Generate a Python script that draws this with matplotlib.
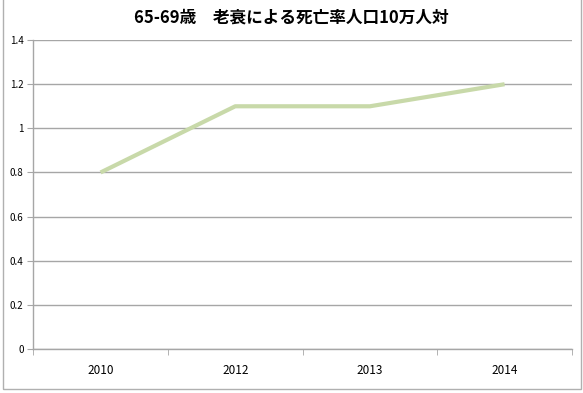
import matplotlib
matplotlib.use("Agg")
from matplotlib import pyplot as plt
from matplotlib.patches import Rectangle

plt.rcParams["font.family"] = ["Noto Sans CJK JP", "DejaVu Sans"]

years = ["2010", "2012", "2013", "2014"]
rates = [0.8, 1.1, 1.1, 1.2]
y_ticks = [0, 0.2, 0.4, 0.6, 0.8, 1.0, 1.2, 1.4]
y_labels = ["0", "0.2", "0.4", "0.6", "0.8", "1", "1.2", "1.4"]
title = "65-69歳　老衰による死亡率人口10万人対"


def main() -> None:
    fig = plt.figure(figsize=(5.83, 3.93), dpi=100)
    ax = fig.add_axes([0.057, 0.112, 0.924, 0.786])

    x = list(range(len(years)))
    ax.plot(x, rates, color="#c8d9a9", linewidth=3.0, solid_capstyle="butt", zorder=3)

    ax.set_xlim(-0.5, len(years) - 0.5)
    ax.set_ylim(0, 1.4)
    ax.set_yticks(y_ticks)
    ax.set_yticklabels(y_labels, fontsize=7)
    ax.yaxis.grid(True, color="#a6a6a6", linewidth=1.0)
    ax.set_axisbelow(True)

    ax.set_xticks(x)
    ax.set_xticklabels(years, fontsize=8.5)
    ax.tick_params(axis="x", length=0, pad=11)
    ax.set_xticks([i - 0.5 for i in range(len(years) + 1)], minor=True)
    ax.tick_params(axis="x", which="minor", length=4, color="#a6a6a6", direction="out")
    ax.tick_params(axis="y", length=4, color="#a6a6a6", pad=3)

    for side in ["top", "right"]:
        ax.spines[side].set_visible(False)
    for side in ["left", "bottom"]:
        ax.spines[side].set_color("#a6a6a6")
        ax.spines[side].set_linewidth(1.0)

    fig.text(0.5, 0.955, title, ha="center", va="center", fontsize=12, fontweight="bold")

    fig.patches.append(Rectangle((3 / 583, 4 / 393), 578 / 583, 400 / 393, transform=fig.transFigure,
                                 fill=False, edgecolor="#b0b0b0", linewidth=1.0))

    fig.savefig("out.png", dpi=100)


if __name__ == "__main__":
    main()
